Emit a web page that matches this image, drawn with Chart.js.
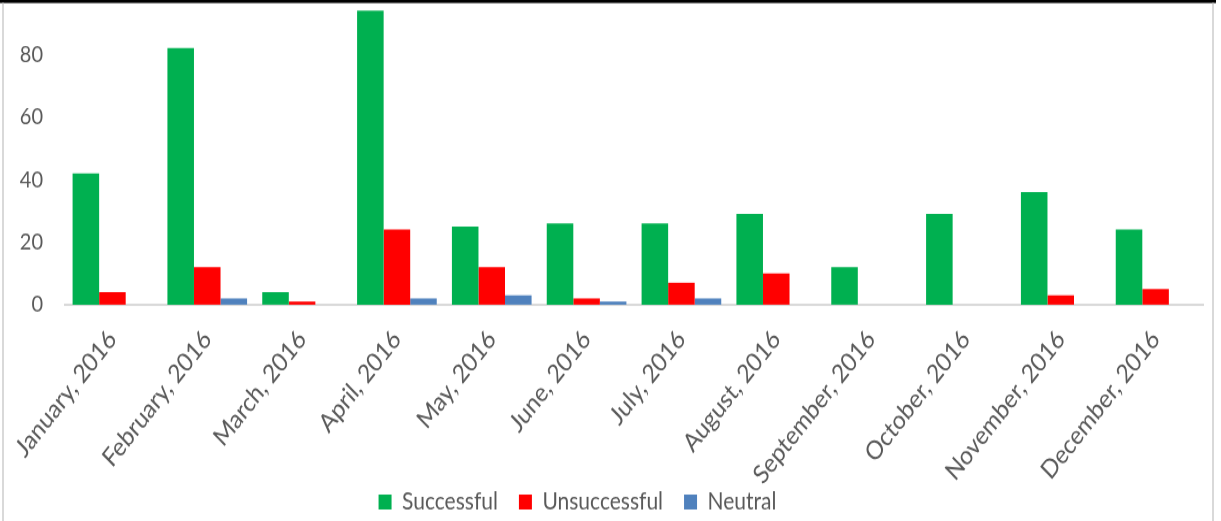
<!DOCTYPE html>
<html>
<head>
<meta charset="utf-8">
<script src="https://cdn.jsdelivr.net/npm/chart.js@4.4.1/dist/chart.umd.min.js"></script>
<style>
  html, body { margin: 0; padding: 0; background: #fff; width: 1221px; height: 521px; overflow: hidden; }
  /* the original picture is a little stretched vertically */
  #wrap { width: 1221px; height: 453px; position: absolute; left: 0; top: 0; transform: scaleY(1.1501); transform-origin: 0 0; }
</style>
</head>
<body>
<div id="wrap"><canvas id="chart"></canvas></div>
<script>
const months = ["January, 2016", "February, 2016", "March, 2016", "April, 2016", "May, 2016", "June, 2016",
  "July, 2016", "August, 2016", "September, 2016", "October, 2016", "November, 2016", "December, 2016"];
const successful   = [42, 82, 4, 94, 25, 26, 26, 29, 12, 29, 36, 24];
const unsuccessful = [4, 12, 1, 24, 12, 2, 7, 10, 0, 0, 3, 5];
const neutral      = [0, 2, 0, 2, 3, 1, 2, 0, 0, 0, 0, 0];
const yTicks = [0, 20, 40, 60, 80];

const txt = "#595959";

// frame around the picture (top black rule, grey sides)
const frame = {
  id: "frame",
  afterDraw(chart) {
    const c = chart.ctx;
    c.save();
    c.fillStyle = "#000";
    c.fillRect(0, 0, 1216, 2.6);
    c.fillStyle = "#d9d9d9";
    c.fillRect(2, 2.6, 2, 460);
    c.fillRect(1212, 2.6, 2, 460);
    c.restore();
  }
};

// legend sits a bit left of centre in the original; month labels run into the legend band
const layoutTweak = {
  id: "layoutTweak",
  afterLayout(chart) {
    const lg = chart.legend;
    lg.left -= 24; lg.right -= 24;
    lg.top += 4; lg.bottom += 4;
    const xs = chart.scales.x;
    xs.bottom = 453;
    xs.height = xs.bottom - xs.top;
  }
};

new Chart(document.getElementById("chart"), {
  type: "bar",
  data: {
    labels: months,
    datasets: [
      { label: "Successful", data: successful, backgroundColor: "#00b050" },
      { label: "Unsuccessful", data: unsuccessful, backgroundColor: "#ff0000" },
      { label: "Neutral", data: neutral, backgroundColor: "#4f81bd" }
    ]
  },
  options: {
    responsive: true,
    maintainAspectRatio: false,
    animation: false,
    layout: { padding: { left: 0, right: 18, top: 1, bottom: 0 } },
    datasets: { bar: { barPercentage: 1, categoryPercentage: 0.84 } },
    scales: {
      x: {
        grid: { display: false, drawTicks: false },
        border: { color: "#d9d9d9", width: 2 },
        ticks: {
          color: txt, font: { family: "Lato", size: 22.5 },
          minRotation: 48, maxRotation: 48, padding: 17, autoSkip: false
        },
        afterFit(s) { s.height = 136.1; s.paddingLeft = 0; s.paddingRight = 0; }
      },
      y: {
        min: 0, max: 97,
        grid: { display: false, drawTicks: false },
        border: { display: false },
        ticks: { color: txt, font: { family: "Lato", size: 20 }, padding: 22 },
        afterBuildTicks(s) { s.ticks = yTicks.map(v => ({ value: v })); },
        afterFit(s) { s.width = 65; s.paddingTop = 0; s.paddingBottom = 0; }
      }
    },
    plugins: {
      tooltip: { enabled: false },
      legend: {
        position: "bottom",
        labels: {
          color: txt, font: { family: "Lato", size: 21 },
          boxWidth: 13, boxHeight: 13, padding: 21
        }
      }
    }
  },
  plugins: [frame, layoutTweak]
});
</script>
</body>
</html>
